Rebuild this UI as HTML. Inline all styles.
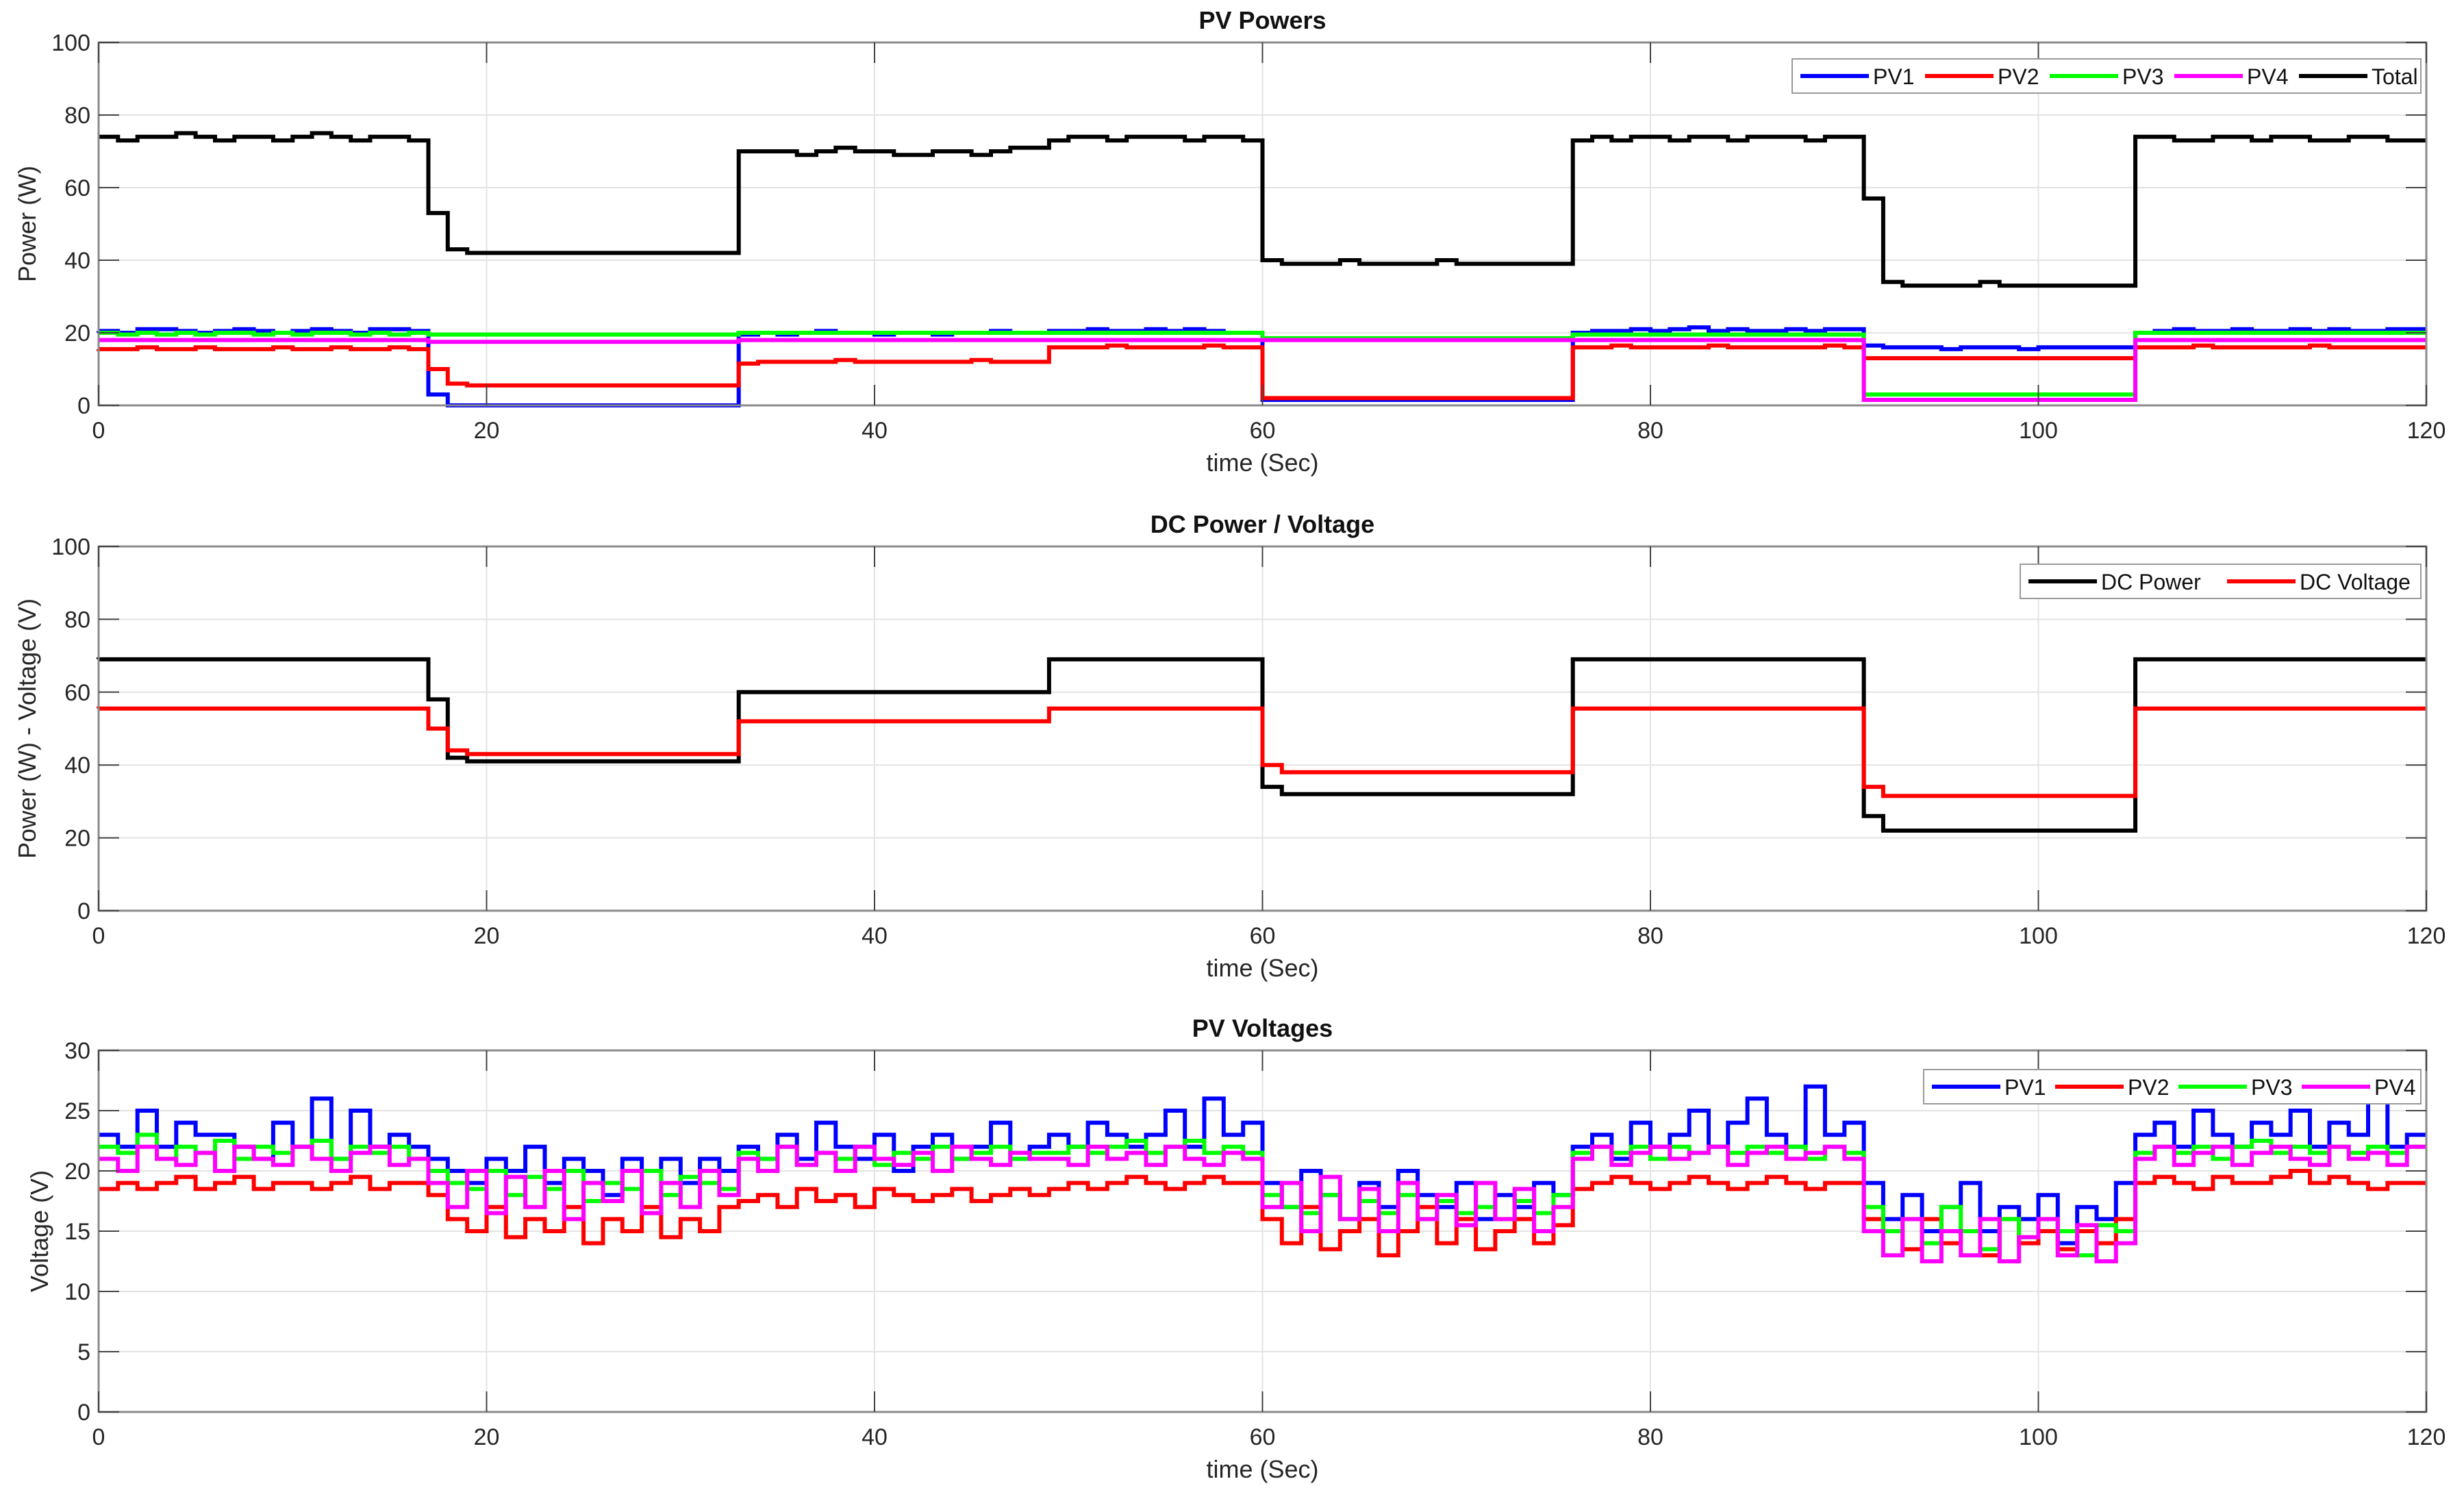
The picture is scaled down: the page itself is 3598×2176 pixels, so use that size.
<!DOCTYPE html>
<html><head><meta charset="utf-8"><style>
html,body{margin:0;padding:0;background:#fff;}
svg{display:block;font-family:"Liberation Sans",Arial,sans-serif;}
</style></head><body>
<svg id="chart" width="3598" height="2176" viewBox="0 0 3598 2176"></svg>
<script>
// ---- data (1 s steps, value i spans t=i..i+1) ----
const timeRange = [0, 120];
const xTicks = [0, 20, 40, 60, 80, 100, 120];
const yTicksPower = [0, 20, 40, 60, 80, 100];
const yTicksVolt = [0, 5, 10, 15, 20, 25, 30];

const pvTotal = [74,73,74,74,75,74,73,74,74,73,74,75,74,73,74,74,73,
53,43,42,42,42,42,42,42,42,42,42,42,42,42,42,42,
70,70,70,69,70,71,70,70,69,69,70,70,69,70,71,71,
73,74,74,73,74,74,74,73,74,74,73,
40,39,39,39,40,39,39,39,39,40,39,39,39,39,39,39,
73,74,73,74,74,73,74,74,73,74,74,74,73,74,74,
57,34,33,33,33,33,34,33,33,33,33,33,33,33,
74,74,73,73,74,74,73,74,74,73,73,74,74,73,73];
const pv1Power = [20.5,20,21,21,20.5,20,20.5,21,20.5,20,20.5,21,20.5,20,21,21,20.5,
3,0,0,0,0,0,0,0,0,0,0,0,0,0,0,0,
19.5,20,19.5,20,20.5,20,20,19.5,20,20,19.5,20,20,20.5,20,20,
20.5,20.5,21,20.5,20.5,21,20.5,21,20.5,20,20,
1.5,1.5,1.5,1.5,1.5,1.5,1.5,1.5,1.5,1.5,1.5,1.5,1.5,1.5,1.5,1.5,
20,20.5,20.5,21,20.5,21,21.5,20.5,21,20.5,20.5,21,20.5,21,21,
16.5,16,16,16,15.5,16,16,16,15.5,16,16,16,16,16,
20,20.5,21,20.5,20.5,21,20.5,20.5,21,20.5,21,20.5,20.5,21,21];
const pv2Power = [15.5,15.5,16,15.5,15.5,16,15.5,15.5,15.5,16,15.5,15.5,16,15.5,15.5,16,15.5,
10,6,5.5,5.5,5.5,5.5,5.5,5.5,5.5,5.5,5.5,5.5,5.5,5.5,5.5,5.5,
11.5,12,12,12,12,12.5,12,12,12,12,12,12,12.5,12,12,12,
16,16,16,16.5,16,16,16,16,16.5,16,16,
2,2,2,2,2,2,2,2,2,2,2,2,2,2,2,2,
16,16,16.5,16,16,16,16,16.5,16,16,16,16,16,16.5,16,
13,13,13,13,13,13,13,13,13,13,13,13,13,13,
16,16,16,16.5,16,16,16,16,16,16.5,16,16,16,16,16];
const pv3Power = [20,19.5,20,19.5,20,19.5,20,20,19.5,20,19.5,20,20,19.5,20,19.5,20,
19.5,19.5,19.5,19.5,19.5,19.5,19.5,19.5,19.5,19.5,19.5,19.5,19.5,19.5,19.5,19.5,
20,20,20,20,20,20,20,20,20,20,20,20,20,20,20,20,
20,20,20,20,20,20,20,20,20,20,20,
18.5,18.5,18.5,18.5,18.5,18.5,18.5,18.5,18.5,18.5,18.5,18.5,18.5,18.5,18.5,18.5,
19.5,19.5,19.5,19.5,19.5,19.5,19.5,19.5,19.5,19.5,19.5,19.5,19.5,19.5,19.5,
3,3,3,3,3,3,3,3,3,3,3,3,3,3,
20,20,20,20,20,20,20,20,20,20,20,20,20,20,20];
const pv4Power = [18,18,18,18,18,18,18,18,18,18,18,18,18,18,18,18,18,
17.5,17.5,17.5,17.5,17.5,17.5,17.5,17.5,17.5,17.5,17.5,17.5,17.5,17.5,17.5,17.5,
18,18,18,18,18,18,18,18,18,18,18,18,18,18,18,18,
18,18,18,18,18,18,18,18,18,18,18,
18,18,18,18,18,18,18,18,18,18,18,18,18,18,18,18,
18,18,18,18,18,18,18,18,18,18,18,18,18,18,18,
1.5,1.5,1.5,1.5,1.5,1.5,1.5,1.5,1.5,1.5,1.5,1.5,1.5,1.5,
18,18,18,18,18,18,18,18,18,18,18,18,18,18,18];
const dcPower = [69,69,69,69,69,69,69,69,69,69,69,69,69,69,69,69,69,
58,42,41,41,41,41,41,41,41,41,41,41,41,41,41,41,
60,60,60,60,60,60,60,60,60,60,60,60,60,60,60,60,
69,69,69,69,69,69,69,69,69,69,69,
34,32,32,32,32,32,32,32,32,32,32,32,32,32,32,32,
69,69,69,69,69,69,69,69,69,69,69,69,69,69,69,
26,22,22,22,22,22,22,22,22,22,22,22,22,22,
69,69,69,69,69,69,69,69,69,69,69,69,69,69,69];
const dcVoltage = [55.5,55.5,55.5,55.5,55.5,55.5,55.5,55.5,55.5,55.5,55.5,55.5,55.5,55.5,55.5,55.5,55.5,
50,44,43,43,43,43,43,43,43,43,43,43,43,43,43,43,
52,52,52,52,52,52,52,52,52,52,52,52,52,52,52,52,
55.5,55.5,55.5,55.5,55.5,55.5,55.5,55.5,55.5,55.5,55.5,
40,38,38,38,38,38,38,38,38,38,38,38,38,38,38,38,
55.5,55.5,55.5,55.5,55.5,55.5,55.5,55.5,55.5,55.5,55.5,55.5,55.5,55.5,55.5,
34,31.5,31.5,31.5,31.5,31.5,31.5,31.5,31.5,31.5,31.5,31.5,31.5,31.5,
55.5,55.5,55.5,55.5,55.5,55.5,55.5,55.5,55.5,55.5,55.5,55.5,55.5,55.5,55.5];
const pv1Volt = [23,22,25,22,24,23,23,22,21,24,22,26,21,25,22,23,22,
21,20,19,21,20,22,19,21,20,18,21,20,21,19,21,20,
22,21,23,21,24,22,21,23,20,22,23,21,22,24,21,22,
23,22,24,23,22,23,25,22,26,23,24,
19,17,20,18,16,19,17,20,18,17,19,16,18,17,19,18,
22,23,21,24,22,23,25,22,24,26,23,22,27,23,24,
19,16,18,15,17,19,15,17,16,18,14,17,16,19,
23,24,22,25,23,22,24,23,25,22,24,23,26,22,23];
const pv2Volt = [18.5,19,18.5,19,19.5,18.5,19,19.5,18.5,19,19,18.5,19,19.5,18.5,19,19,
18,16,15,17,14.5,16,15,17,14,16,15,17,14.5,16,15,17,
17.5,18,17,18.5,17.5,18,17,18.5,18,17.5,18,18.5,17.5,18,18.5,18,
18.5,19,18.5,19,19.5,19,18.5,19,19.5,19,19,
16,14,17,13.5,15,16,13,15,17,14,16,13.5,15,16,14,15.5,
18.5,19,19.5,19,18.5,19,19.5,19,18.5,19,19.5,19,18.5,19,19,
16,15,13.5,16,14,15,13,16,14,15,13.5,15,14,16,
19,19.5,19,18.5,19.5,19,19,19.5,20,19,19.5,19,18.5,19,19];
const pv3Volt = [22,21.5,23,21,22,21.5,22.5,21,22,21.5,22,22.5,21,22,21.5,22,21,
20,19,18.5,20,18,19.5,18.5,20,17.5,19,18.5,20,18,19.5,19,18.5,
21.5,21,22,20.5,21.5,21,22,20.5,21.5,21,22,21,21.5,22,21,21.5,
21.5,22,21.5,22,22.5,21.5,22,22.5,21.5,22,21.5,
18,17,16.5,18,16,17.5,16.5,18,16,17.5,16.5,17,16,17.5,16.5,18,
21.5,22,21.5,22,21,22,21.5,22,21.5,22,21.5,22,21,22,21.5,
17,15,16,14,17,15,13.5,16,14.5,16,15,13,15.5,15,
21.5,22,21.5,22,21,22,22.5,21.5,22,21.5,22,21.5,22,21.5,22];
const pv4Volt = [21,20,22,21,20.5,21.5,20,22,21,20.5,22,21,20,21.5,22,20.5,21,
19,17,20,16.5,19.5,17,20,16,19,17.5,20,16.5,19,17,20,18,
21,20,22,20.5,21.5,20,22,21,20.5,21.5,20,22,21,20.5,21.5,21,
21,20.5,22,21,21.5,20.5,22,21,20.5,21.5,21,
17,19,15,19.5,16,18.5,15,19,16,18,15.5,19,16,18.5,15,17,
21,22,20.5,21.5,22,21,21.5,22,20.5,21.5,22,21,21.5,22,21,
15,13,16,12.5,15,13,16,12.5,14.5,16,13,15.5,12.5,14,
21,22,20.5,21.5,22,20.5,21.5,22,21,20.5,22,21,21.5,20.5,22];

// ---- drawing ----
const NS = 'http://www.w3.org/2000/svg';
const svg = document.getElementById('chart');
const X0 = 144, X1 = 3543;
function mk(tag, attrs, parent){const e=document.createElementNS(NS,tag);for(const k in attrs)e.setAttribute(k,attrs[k]);(parent||svg).appendChild(e);return e;}

function panel(cfg){
  const g = mk('g',{});
  
  
  const ymin=cfg.yTicks[0], ymax=cfg.yTicks[cfg.yTicks.length-1];
  const xs = t => X0 + (t-timeRange[0])/(timeRange[1]-timeRange[0])*(X1-X0);
  const ys = v => cfg.bot - (v-ymin)/(ymax-ymin)*(cfg.bot-cfg.top);
  mk('rect',{x:X0,y:cfg.top,width:X1-X0,height:cfg.bot-cfg.top,fill:'#fff'},g);
  // grid
  xTicks.forEach(t=>{ if(t>timeRange[0]&&t<timeRange[1]) mk('line',{x1:xs(t),x2:xs(t),y1:cfg.top,y2:cfg.bot,stroke:'#e3e3e3','stroke-width':2},g);});
  cfg.yTicks.forEach(v=>{ if(v>ymin&&v<ymax) mk('line',{x1:X0,x2:X1,y1:ys(v),y2:ys(v),stroke:'#e3e3e3','stroke-width':2},g);});
  // series
  cfg.series.forEach(s=>{
    let d='M'+xs(0)+' '+ys(s.data[0]);
    s.data.forEach((v,i)=>{ d+=' V'+ys(v).toFixed(1)+' H'+xs(i+1).toFixed(1); });
    const p = mk('path',{d:d,fill:'none',stroke:s.color,'stroke-width':6,'stroke-linejoin':'miter'},g);
    
    
  });
  // axes box
  mk('rect',{x:X0,y:cfg.top,width:X1-X0,height:cfg.bot-cfg.top,fill:'none',stroke:'#8a8a8a','stroke-width':3},g);
  // ticks + labels
  xTicks.forEach(t=>{
    mk('line',{x1:xs(t),x2:xs(t),y1:cfg.bot,y2:cfg.bot-30,stroke:'#444','stroke-width':2},g);
    mk('line',{x1:xs(t),x2:xs(t),y1:cfg.top,y2:cfg.top+30,stroke:'#444','stroke-width':2},g);
    const tx = mk('text',{x:xs(t),y:cfg.bot+48,'text-anchor':'middle','font-size':34,fill:'#262626'},g);
    tx.textContent=t;
    
    
  });
  cfg.yTicks.forEach(v=>{
    mk('line',{x1:X0,x2:X0+30,y1:ys(v),y2:ys(v),stroke:'#444','stroke-width':2},g);
    mk('line',{x1:X1,x2:X1-30,y1:ys(v),y2:ys(v),stroke:'#444','stroke-width':2},g);
    const ty = mk('text',{x:X0-12,y:ys(v)+12,'text-anchor':'end','font-size':34,fill:'#262626'},g);
    ty.textContent=v;
    
    
  });
  const title = mk('text',{x:(X0+X1)/2,y:cfg.top-20,'text-anchor':'middle','font-size':36,'font-weight':'bold',fill:'#111'},g);
  title.textContent=cfg.title;
  
  
  const xl = mk('text',{x:(X0+X1)/2,y:cfg.bot+96,'text-anchor':'middle','font-size':36,fill:'#262626'},g);
  xl.textContent='time (Sec)';
  
  
  const cy=(cfg.top+cfg.bot)/2;
  const yl = mk('text',{x:cfg.ylx,y:cy,'text-anchor':'middle','font-size':36,fill:'#262626',transform:'rotate(-90 '+cfg.ylx+' '+cy+')'},g);
  yl.textContent=cfg.ylabel;
  
  
  // legend
  const L=cfg.legend;
  const lg = mk('g',{},g);
  
  
  mk('rect',{x:L.x,y:L.y,width:L.w,height:50,fill:'#fff',stroke:'#999','stroke-width':2},lg);
  let cx=L.x+12;
  cfg.series.forEach(s=>{
    mk('line',{x1:cx,x2:cx+L.line,y1:L.y+25,y2:L.y+25,stroke:s.color,'stroke-width':6},lg);
    const t=mk('text',{x:cx+L.line+6,y:L.y+37,'font-size':32,fill:'#111'},lg);
    t.textContent=s.label;
    
    
    cx+=L.step;
  });
}

panel({name:'pv-powers-chart',title:'PV Powers',top:62,bot:592,yTicks:yTicksPower,ylabel:'Power (W)',ylx:52,
  legend:{x:2617,y:86,w:918,line:100,step:182},
  series:[{id:'pv1',label:'PV1',color:'#0000ff',data:pv1Power},{id:'pv2',label:'PV2',color:'#ff0000',data:pv2Power},
          {id:'pv3',label:'PV3',color:'#00ff00',data:pv3Power},{id:'pv4',label:'PV4',color:'#ff00ff',data:pv4Power},
          {id:'total',label:'Total',color:'#000000',data:pvTotal}]});
panel({name:'dc-power-voltage-chart',title:'DC Power / Voltage',top:798,bot:1330,yTicks:yTicksPower,ylabel:'Power (W) - Voltage (V)',ylx:52,
  legend:{x:2950,y:824,w:585,line:100,step:290},
  series:[{id:'dc-power',label:'DC Power',color:'#000000',data:dcPower},{id:'dc-voltage',label:'DC Voltage',color:'#ff0000',data:dcVoltage}]});
panel({name:'pv-voltages-chart',title:'PV Voltages',top:1534,bot:2062,yTicks:yTicksVolt,ylabel:'Voltage (V)',ylx:70,
  legend:{x:2809,y:1562,w:726,line:100,step:180},
  series:[{id:'pv1-v',label:'PV1',color:'#0000ff',data:pv1Volt},{id:'pv2-v',label:'PV2',color:'#ff0000',data:pv2Volt},
          {id:'pv3-v',label:'PV3',color:'#00ff00',data:pv3Volt},{id:'pv4-v',label:'PV4',color:'#ff00ff',data:pv4Volt}]});
</script>
</body></html>
